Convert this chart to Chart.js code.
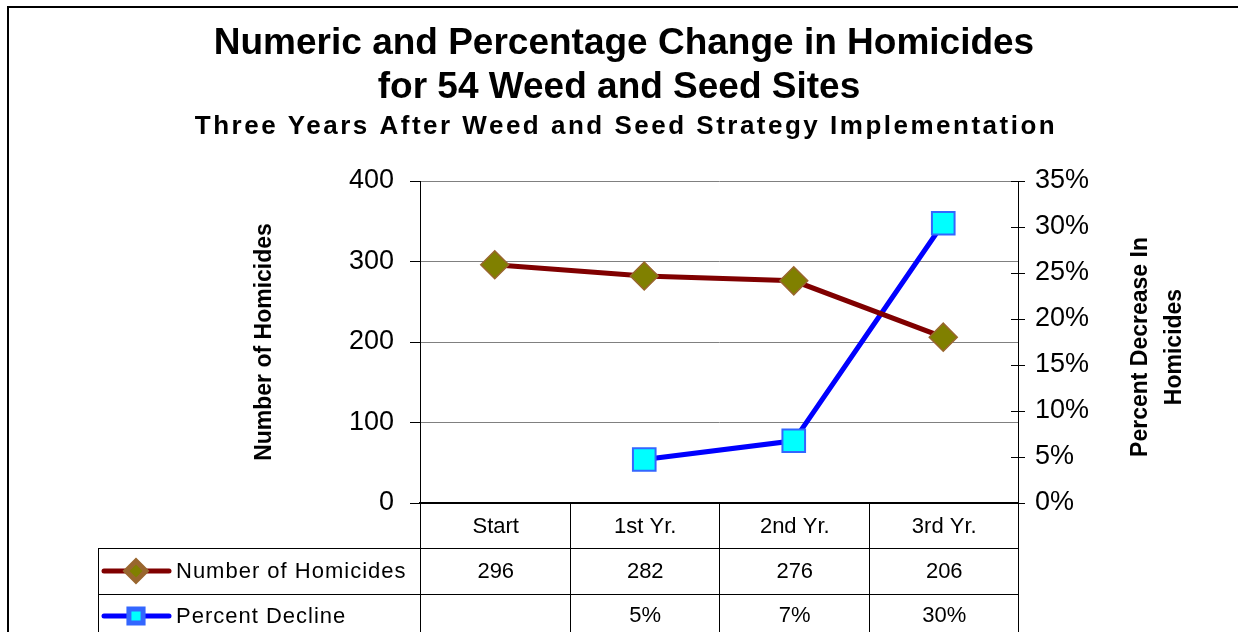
<!DOCTYPE html>
<html>
<head>
<meta charset="utf-8">
<script src="https://cdn.jsdelivr.net/npm/chart.js@4"></script>
<style>
  html, body { margin: 0; padding: 0; background: #fff; }
  #wrap { width: 1238px; height: 632px; position: relative; }
</style>
</head>
<body>
<div id="wrap"><canvas id="homicides_chart"></canvas></div>
<script>
// Data
var categories = ['Start', '1st Yr.', '2nd Yr.', '3rd Yr.'];
var homicides = [296, 282, 276, 206];
var percentDecline = [null, 4.73, 6.76, 30.41];
var seriesNames = ['Number of Homicides', 'Percent Decline'];
var titleLines = ['Numeric and Percentage Change in Homicides', 'for 54 Weed and Seed Sites'];
var subTitle = 'Three Years After Weed and Seed Strategy Implementation';
var leftAxisTitle = 'Number of Homicides';
var rightAxisTitle = ['Percent Decrease In', 'Homicides'];

var FONT = "'Liberation Sans', Arial, sans-serif";

var homStyle = {
    line: '#800000', fill: '#808000', border: '#99662E', style: 'rectRot'
};
var pctStyle = {
    line: '#0000FF', fill: '#00FFFF', border: '#3366FF', style: 'rect'
};

// Titles, frame, right axis title and the data table under the plot
var extrasPlugin = {
    id: 'extras',
    afterDraw: function(chart) {
        var ctx = chart.ctx;
        var area = chart.chartArea;
        ctx.save();

        // outer frame (top and left edges only are visible)
        ctx.strokeStyle = '#000';
        ctx.lineWidth = 2;
        ctx.beginPath();
        ctx.moveTo(8, 640);
        ctx.lineTo(8, 7);
        ctx.lineTo(1240, 7);
        ctx.stroke();

        // main titles
        ctx.fillStyle = '#000';
        ctx.textAlign = 'center';
        ctx.textBaseline = 'alphabetic';
        ctx.font = 'bold 37px ' + FONT;
        ctx.fillText(titleLines[0], 624, 54);
        ctx.fillText(titleLines[1], 619, 98);
        ctx.font = 'bold 26px ' + FONT;
        ctx.letterSpacing = '2.5px';
        ctx.fillText(subTitle, 626, 134);
        ctx.letterSpacing = '0px';

        // right axis title, reads bottom to top
        ctx.save();
        ctx.translate(1141, 347);
        ctx.rotate(-Math.PI / 2);
        ctx.font = 'bold 23px ' + FONT;
        ctx.textBaseline = 'middle';
        ctx.fillText(rightAxisTitle[0], 0, 0);
        ctx.fillText(rightAxisTitle[1], 0, 34);
        ctx.restore();

        // inner half of the right axis tick marks
        var y2 = chart.scales.y2;
        ctx.strokeStyle = '#000';
        ctx.lineWidth = 1;
        y2.ticks.forEach(function(t) {
            var py = Math.round(y2.getPixelForValue(t.value)) + 0.5;
            ctx.beginPath();
            ctx.moveTo(area.right - 7, py);
            ctx.lineTo(area.right, py);
            ctx.stroke();
        });

        // data table
        var band = (area.right - area.left) / categories.length;
        var top = area.bottom;
        var rowH = [45, 46, 46];
        var r1 = top + rowH[0];
        var r2 = r1 + rowH[1];
        var bottom = 640;
        var legendLeft = 98;

        ctx.strokeStyle = '#000';
        ctx.lineWidth = 1;
        ctx.beginPath();
        for (var i = 0; i <= categories.length; i++) {
            var vx = Math.round(area.left + i * band) + 0.5;
            ctx.moveTo(vx, top);
            ctx.lineTo(vx, bottom);
        }
        ctx.moveTo(legendLeft + 0.5, r1);
        ctx.lineTo(legendLeft + 0.5, bottom);
        ctx.moveTo(legendLeft, r1 + 0.5);
        ctx.lineTo(area.right, r1 + 0.5);
        ctx.moveTo(legendLeft, r2 + 0.5);
        ctx.lineTo(area.right, r2 + 0.5);
        ctx.stroke();

        ctx.font = '22px ' + FONT;
        ctx.textBaseline = 'middle';
        ctx.textAlign = 'center';
        var x = chart.scales.x;
        categories.forEach(function(c, i) {
            var cx = x.getPixelForValue(i) + 1;
            ctx.fillText(c, cx, top + rowH[0] / 2 + 1);
            ctx.fillText(String(homicides[i]), cx, r1 + rowH[1] / 2 + 1);
            if (percentDecline[i] !== null) {
                ctx.fillText(Math.round(percentDecline[i]) + '%', cx, r2 + 22);
            }
        });

        // legend keys in the first column
        var rowsY = [r1 + rowH[1] / 2, r2 + 22];
        [homStyle, pctStyle].forEach(function(s, i) {
            var ly = rowsY[i];
            ctx.strokeStyle = s.line;
            ctx.lineWidth = 5;
            ctx.lineCap = 'round';
            ctx.beginPath();
            ctx.moveTo(104, ly);
            ctx.lineTo(169, ly);
            ctx.stroke();
            ctx.lineCap = 'butt';
            ctx.fillStyle = s.fill;
            ctx.strokeStyle = s.border;
            Chart.helpers.drawPoint(ctx, {
                pointStyle: s.style, rotation: 0,
                radius: s.style === 'rect' ? 10 : 10, borderWidth: 1.5
            }, 136, ly);
            ctx.fillStyle = '#000';
            ctx.textAlign = 'left';
            ctx.letterSpacing = '1px';
            ctx.font = '22px ' + FONT;
            ctx.fillText(seriesNames[i], 176, ly + 1);
            ctx.letterSpacing = '0px';
        });

        ctx.restore();
    }
};

var chart = new Chart(document.getElementById('homicides_chart').getContext('2d'), {
    type: 'line',
    data: {
        labels: categories,
        datasets: [{
            label: seriesNames[0],
            data: homicides,
            yAxisID: 'y',
            borderColor: homStyle.line,
            borderWidth: 5,
            pointStyle: homStyle.style,
            pointRadius: 14,
            pointBackgroundColor: homStyle.fill,
            pointBorderColor: homStyle.border,
            pointBorderWidth: 1.5
        }, {
            label: seriesNames[1],
            data: percentDecline,
            yAxisID: 'y2',
            borderColor: pctStyle.line,
            borderWidth: 5,
            pointStyle: pctStyle.style,
            pointRadius: 16,
            pointBackgroundColor: pctStyle.fill,
            pointBorderColor: pctStyle.border,
            pointBorderWidth: 2
        }]
    },
    options: {
        responsive: true,
        maintainAspectRatio: false,
        animation: false,
        layout: { padding: { top: 181, bottom: 129, left: 0, right: 0 } },
        plugins: {
            legend: { display: false },
            tooltip: { enabled: false },
            title: { display: false }
        },
        scales: {
            x: {
                offset: true,
                grid: { display: false },
                ticks: { display: false },
                border: { color: '#000', width: 2 },
                afterFit: function(s) { s.height = 0; }
            },
            y: {
                position: 'left',
                min: 0, max: 400,
                ticks: {
                    stepSize: 100,
                    color: '#000',
                    padding: 16,
                    font: { family: FONT, size: 27 }
                },
                grid: { color: '#808080', tickColor: '#000', tickLength: 10 },
                border: { color: '#000', width: 1 },
                title: {
                    display: true,
                    text: leftAxisTitle,
                    color: '#000',
                    font: { family: FONT, size: 23, weight: 'bold' },
                    padding: { top: 251, bottom: 0 }
                },
                afterFit: function(s) { s.width = 420; }
            },
            y2: {
                position: 'right',
                min: 0, max: 35,
                ticks: {
                    stepSize: 5,
                    color: '#000',
                    padding: 10,
                    font: { family: FONT, size: 27 },
                    callback: function(v) { return v + '%'; }
                },
                grid: { drawOnChartArea: false, color: '#000', tickLength: 7 },
                border: { color: '#000', width: 1 },
                afterFit: function(s) { s.width = 220; }
            }
        }
    },
    plugins: [extrasPlugin]
});
</script>
</body>
</html>
